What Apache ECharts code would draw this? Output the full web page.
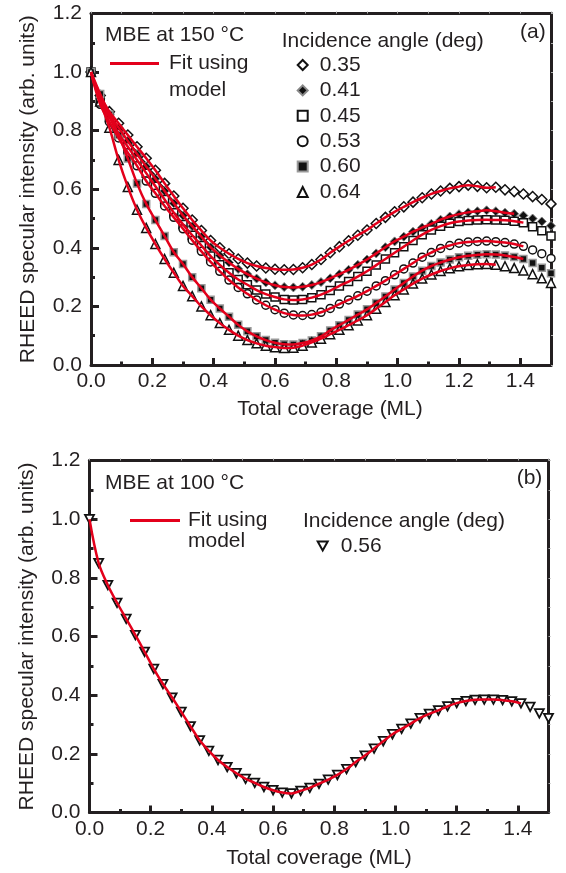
<!DOCTYPE html>
<html>
<head>
<meta charset="utf-8">
<script src="https://cdn.jsdelivr.net/npm/echarts@6/dist/echarts.min.js"></script>
<style>
  html, body { margin: 0; padding: 0; background: #fff; }
  #chart { width: 566px; height: 873px; }
</style>
</head>
<body>
<div id="chart"></div>
<script>
// total coverage (ML) at which each marker was read
const coverage = [0, 0.03, 0.06, 0.09, 0.12, 0.15, 0.18, 0.21, 0.24, 0.27,
  0.3, 0.33, 0.36, 0.39, 0.42, 0.45, 0.48, 0.51, 0.54, 0.57,
  0.6, 0.63, 0.66, 0.69, 0.72, 0.75, 0.78, 0.81, 0.84, 0.87,
  0.9, 0.93, 0.96, 0.99, 1.02, 1.05, 1.08, 1.11, 1.14, 1.17,
  1.2, 1.23, 1.26, 1.29, 1.32, 1.35, 1.38, 1.41, 1.44, 1.47, 1.5]

// (a) MBE at 150 C
const anglesA = ['0.35', '0.41', '0.45', '0.53', '0.60', '0.64']
const i035 = [1.00, 0.92, 0.865, 0.825, 0.785, 0.745, 0.706, 0.665, 0.62, 0.577,
  0.535, 0.495, 0.459, 0.425, 0.4, 0.38, 0.362, 0.348, 0.338, 0.331,
  0.327, 0.325, 0.326, 0.332, 0.343, 0.36, 0.383, 0.404, 0.424, 0.443,
  0.461, 0.483, 0.504, 0.523, 0.54, 0.556, 0.571, 0.584, 0.594, 0.603,
  0.609, 0.614, 0.61, 0.605, 0.607, 0.598, 0.592, 0.584, 0.575, 0.565, 0.55]
const i041 = [1.00, 0.91, 0.855, 0.81, 0.765, 0.72, 0.678, 0.636, 0.594, 0.552,
  0.51, 0.474, 0.438, 0.402, 0.374, 0.35, 0.328, 0.31, 0.295, 0.282,
  0.272, 0.266, 0.265, 0.267, 0.273, 0.283, 0.296, 0.31, 0.325, 0.342,
  0.36, 0.381, 0.402, 0.422, 0.438, 0.455, 0.469, 0.482, 0.496, 0.507,
  0.515, 0.521, 0.525, 0.528, 0.525, 0.52, 0.516, 0.51, 0.5, 0.49, 0.475]
const i045 = [1.00, 0.9, 0.845, 0.79, 0.745, 0.7, 0.655, 0.61, 0.565, 0.52,
  0.48, 0.443, 0.408, 0.372, 0.342, 0.315, 0.292, 0.274, 0.256, 0.242,
  0.232, 0.224, 0.222, 0.224, 0.23, 0.24, 0.254, 0.27, 0.285, 0.302,
  0.32, 0.341, 0.362, 0.383, 0.404, 0.425, 0.445, 0.461, 0.474, 0.484,
  0.49, 0.493, 0.495, 0.496, 0.495, 0.494, 0.491, 0.486, 0.472, 0.458, 0.44]
const i053 = [1.00, 0.89, 0.83, 0.775, 0.725, 0.68, 0.628, 0.586, 0.543, 0.504,
  0.465, 0.426, 0.388, 0.352, 0.32, 0.29, 0.265, 0.243, 0.222, 0.204,
  0.189, 0.177, 0.171, 0.169, 0.172, 0.18, 0.193, 0.208, 0.222, 0.236,
  0.252, 0.27, 0.288, 0.308, 0.328, 0.348, 0.368, 0.384, 0.398, 0.408,
  0.416, 0.42, 0.422, 0.423, 0.421, 0.418, 0.413, 0.405, 0.393, 0.38, 0.364]
const i060 = [1.00, 0.925, 0.855, 0.785, 0.705, 0.62, 0.55, 0.495, 0.44, 0.385,
  0.345, 0.3, 0.262, 0.223, 0.193, 0.165, 0.137, 0.115, 0.098, 0.085,
  0.076, 0.071, 0.07, 0.075, 0.084, 0.098, 0.118, 0.136, 0.154, 0.172,
  0.19, 0.212, 0.234, 0.258, 0.28, 0.302, 0.322, 0.338, 0.35, 0.36,
  0.368, 0.373, 0.376, 0.378, 0.377, 0.374, 0.369, 0.362, 0.348, 0.332, 0.313]
const i064 = [1.00, 0.9, 0.81, 0.7, 0.608, 0.53, 0.468, 0.413, 0.362, 0.315,
  0.27, 0.235, 0.2, 0.17, 0.143, 0.12, 0.1, 0.085, 0.074, 0.066,
  0.061, 0.058, 0.059, 0.066, 0.077, 0.09, 0.105, 0.12, 0.136, 0.152,
  0.17, 0.192, 0.215, 0.238, 0.258, 0.278, 0.295, 0.309, 0.321, 0.33,
  0.337, 0.341, 0.344, 0.345, 0.342, 0.337, 0.331, 0.323, 0.31, 0.296, 0.28]
// coverage where each red fit stops
const fitEndA = [1.33, 1.40, 1.41, 1.41, 1.41, 1.32]

// (b) MBE at 100 C
const anglesB = ['0.56']
const i056 = [1.0, 0.85, 0.775, 0.715, 0.66, 0.605, 0.548, 0.49, 0.438, 0.392,
  0.343, 0.294, 0.246, 0.21, 0.179, 0.155, 0.134, 0.115, 0.101, 0.087,
  0.076, 0.068, 0.065, 0.074, 0.084, 0.098, 0.112, 0.128, 0.148, 0.172,
  0.194, 0.218, 0.243, 0.267, 0.285, 0.303, 0.322, 0.336, 0.348, 0.362,
  0.373, 0.38, 0.384, 0.385, 0.385, 0.383, 0.379, 0.372, 0.36, 0.338, 0.322]
const fitEndB = [1.43]

const FONT = '"Liberation Sans", Arial, sans-serif'
const INK = '#231f20'
const RED = '#e3001b'
const FS = 21
const DOWN_TRIANGLE = 'path://M0,0L10,0L5,9Z'

const markersA = [
  { symbol: 'diamond', size: 10, color: '#fff', border: '#111', bw: 1.5 },
  { symbol: 'diamond', size: 9, color: '#111', border: '#888', bw: 1 },
  { symbol: 'rect', size: 8, color: '#fff', border: '#111', bw: 1.5 },
  { symbol: 'circle', size: 8, color: '#fff', border: '#111', bw: 1.5 },
  { symbol: 'rect', size: 7, color: '#111', border: '#999', bw: 1.5 },
  { symbol: 'triangle', size: 9, color: '#fff', border: '#111', bw: 1.5 }
]

function pairs(vals, end) {
  const out = []
  for (let i = 0; i < coverage.length; i++) {
    if (end === undefined || coverage[i] <= end + 1e-9) out.push([coverage[i], vals[i]])
  }
  return out
}

const txt = { fontSize: FS, fontFamily: FONT, color: INK }

function panelAxes(grid, overlay, xGap, xPad) {
  const x = [
    {
      gridIndex: grid, type: 'value', position: 'bottom', min: 0, max: 1.5, interval: 0.2,
      axisLine: { show: true, onZero: false, lineStyle: { color: INK, width: 3 } },
      axisTick: { show: true, inside: true, length: 7, lineStyle: { color: INK, width: 3 } },
      axisLabel: Object.assign({ showMaxLabel: false, margin: 6, formatter: v => v.toFixed(1) }, txt),
      splitLine: { show: false },
      name: 'Total coverage (ML)', nameLocation: 'middle', nameGap: xGap,
      nameTextStyle: Object.assign({ padding: [0, 0, 0, xPad] }, txt)
    },
    {
      gridIndex: grid, type: 'value', position: 'top', min: 0, max: 1.5, interval: 0.1,
      axisLine: { show: true, onZero: false, lineStyle: { color: INK, width: 3 } },
      axisTick: { show: true, inside: false, length: 2, lineStyle: { color: '#aaa', width: 1 } },
      axisLabel: { show: false }, splitLine: { show: false }
    },
    {
      gridIndex: overlay, type: 'value', position: 'bottom', min: 0, max: 1.5, interval: 0.1,
      axisLine: { show: false, onZero: false },
      axisTick: { show: true, inside: true, length: 3.5, lineStyle: { color: INK, width: 3 } },
      axisLabel: { show: false }, splitLine: { show: false }
    }
  ]
  const y = [
    {
      gridIndex: grid, type: 'value', position: 'left', min: 0, max: 1.2, interval: 0.2,
      axisLine: { show: true, onZero: false, lineStyle: { color: INK, width: 3 } },
      axisTick: { show: true, inside: true, length: 8, lineStyle: { color: INK, width: 3 } },
      minorTick: { show: true, splitNumber: 2, length: 4, lineStyle: { color: INK, width: 3 } },
      axisLabel: Object.assign({ margin: 9, formatter: v => v.toFixed(1) }, txt),
      splitLine: { show: false },
      name: 'RHEED specular intensity (arb. units)', nameLocation: 'middle', nameGap: 52,
      nameTextStyle: txt
    },
    {
      gridIndex: grid, type: 'value', position: 'right', min: 0, max: 1.2, interval: 0.1,
      axisLine: { show: true, onZero: false, lineStyle: { color: INK, width: 3 } },
      axisTick: { show: true, inside: false, length: 2, lineStyle: { color: '#aaa', width: 1 } },
      axisLabel: { show: false }, splitLine: { show: false }
    },
    { gridIndex: overlay, type: 'value', min: 0, max: 1.2, show: false }
  ]
  return { x, y }
}

const axA = panelAxes(0, 1, 34, 18)
const axB = panelAxes(2, 3, 35, 0)

const series = []
const valsA = [i035, i041, i045, i053, i060, i064]
valsA.forEach((vals, k) => {
  const m = markersA[k]
  series.push({
    type: 'scatter', name: anglesA[k], xAxisIndex: 0, yAxisIndex: 0,
    data: pairs(vals), symbol: m.symbol, symbolSize: m.size, silent: true, z: 2,
    itemStyle: { color: m.color, borderColor: m.border, borderWidth: m.bw, opacity: 1 }
  })
})
valsA.forEach((vals, k) => {
  series.push({
    type: 'line', name: 'Fit using model', xAxisIndex: 0, yAxisIndex: 0,
    data: pairs(vals, fitEndA[k]), smooth: 0.35, symbol: 'none', silent: true, z: 5,
    itemStyle: { color: RED }, lineStyle: { color: RED, width: 2.5 }
  })
})
series.push({
  type: 'scatter', name: anglesB[0], xAxisIndex: 3, yAxisIndex: 3,
  data: pairs(i056), symbol: DOWN_TRIANGLE, symbolSize: [9, 8.5], silent: true, z: 2,
  itemStyle: { color: '#fff', borderColor: '#111', borderWidth: 1.8, opacity: 1 }
})
series.push({
  type: 'line', name: 'Fit using model', xAxisIndex: 3, yAxisIndex: 3,
  data: pairs(i056, fitEndB[0]), smooth: 0.35, symbol: 'none', silent: true, z: 5,
  itemStyle: { color: RED }, lineStyle: { color: RED, width: 2.5 }
})

function legendText(pad) {
  return Object.assign({ lineHeight: 21, padding: [0, 0, 0, pad] }, txt)
}

const option = {
  animation: false,
  backgroundColor: '#fff',
  grid: [
    { left: 91, top: 13.5, width: 460, height: 351.5 },
    { left: 91, top: 13.5, width: 460, height: 351.5 },
    { left: 89.5, top: 460.5, width: 459, height: 352 },
    { left: 89.5, top: 460.5, width: 459, height: 352 }
  ],
  xAxis: axA.x.concat(axB.x),
  yAxis: axA.y.concat(axB.y),
  legend: [
    {
      data: ['Fit using model'], left: 105, top: 48, icon: 'rect', itemWidth: 49, itemHeight: 3,
      itemStyle: { color: RED }, formatter: () => 'Fit using', textStyle: legendText(5), selectedMode: false
    },
    {
      data: anglesA, orient: 'vertical', left: 291.7, top: 49.5, itemWidth: 10, itemHeight: 10,
      itemGap: 4.4, textStyle: legendText(7), selectedMode: false
    },
    {
      data: ['Fit using model'], left: 125, top: 505, icon: 'rect', itemWidth: 50, itemHeight: 3,
      itemStyle: { color: RED }, formatter: () => 'Fit using', textStyle: legendText(3), selectedMode: false
    },
    {
      data: anglesB, orient: 'vertical', left: 311.7, top: 530.5, itemWidth: 10, itemHeight: 9,
      textStyle: legendText(8), selectedMode: false
    }
  ],
  graphic: [
    ['MBE at 150 °C', 105, 35],
    ['model', 169, 90],
    ['Incidence angle (deg)', 281.7, 41.7],
    ['(a)', 520, 32],
    ['MBE at 100 °C', 105, 483],
    ['model', 188, 541],
    ['Incidence angle (deg)', 303, 521.7],
    ['(b)', 516.7, 478]
  ].map(t => ({
    type: 'text', x: t[1], y: t[2], z: 10,
    style: { text: t[0], font: FS + 'px ' + FONT, fill: INK, verticalAlign: 'middle' }
  })),
  series: series
}

const myChart = echarts.init(document.getElementById('chart'))
myChart.setOption(option)
</script>
</body>
</html>
